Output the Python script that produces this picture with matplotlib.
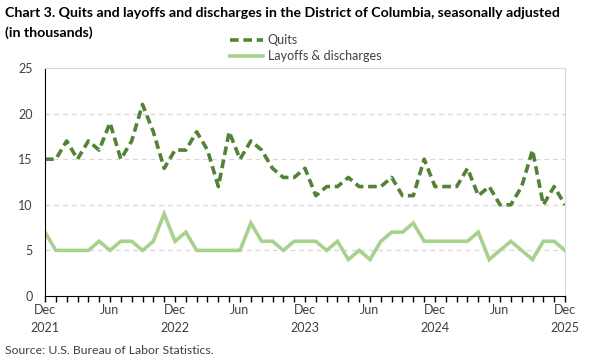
import matplotlib
matplotlib.use("Agg")
import matplotlib.pyplot as plt
import numpy as np

quits = [15, 15, 17, 15, 17, 16, 19, 15, 17, 21, 18, 14,
         16, 16, 18, 16, 12, 18, 15, 17, 16, 14, 13, 13,
         14, 11, 12, 12, 13, 12, 12, 12, 13, 11, 11, 15,
         12, 12, 12, 14, 11, 12, 10, 10, 12, 16, 10, 12, 10]
layoffs = [7, 5, 5, 5, 5, 6, 5, 6, 6, 5, 6, 9,
           6, 7, 5, 5, 5, 5, 5, 8, 6, 6, 5, 6,
           6, 6, 5, 6, 4, 5, 4, 6, 7, 7, 8, 6,
           6, 6, 6, 6, 7, 4, 5, 6, 5, 4, 6, 6, 5]
tick_labels = ["Dec\n2021", "Jun", "Dec\n2022", "Jun", "Dec\n2023", "Jun",
               "Dec\n2024", "Jun", "Dec\n2025"]
y_ticks = [0, 5, 10, 15, 20, 25]

plt.rcParams['font.family'] = ['Lato', 'DejaVu Sans']

fig = plt.figure(figsize=(6, 3.6), dpi=100)
ax = fig.add_axes([45/600, 1-296/360, 520/600, 228/360])

x = np.arange(len(quits))
l1, = ax.plot(x, quits, color='#548235', lw=2.6, linestyle=(0, (2.4, 1.3)), label='Quits')
l2, = ax.plot(x, layoffs, color='#a9d18e', lw=2.6, label='Layoffs & discharges', solid_joinstyle='miter')

ax.set_xlim(0, len(quits)-1)
ax.set_ylim(0, 25)
ax.set_yticks(y_ticks)
ax.set_yticklabels([str(v) for v in y_ticks], fontsize=9, color='#404040')
ax.tick_params(axis='y', length=0, pad=9)
ax.set_xticks(np.arange(0, len(quits), 6))
ax.set_xticklabels(tick_labels, fontsize=9, color='#404040', linespacing=1.6)
ax.set_xticks(np.arange(len(quits)), minor=True)
ax.tick_params(axis='x', which='both', direction='out', length=4, width=1, color='black', pad=2)

for v in [5, 10, 15, 20]:
    ax.axhline(v, color='#d9d9d9', lw=0.9, linestyle=(0, (4, 3)), zorder=0)

ax.spines['left'].set_color('black')
ax.spines['bottom'].set_color('black')
ax.spines['top'].set_color('#d9d9d9')
ax.spines['right'].set_color('#d9d9d9')

fig.text(5/600, 1-13/360, "Chart 3. Quits and layoffs and discharges in the District of Columbia, seasonally adjusted",
         fontsize=10.15, fontweight='bold', va='center', ha='left')
fig.text(5/600, 1-33/360, "(in thousands)", fontsize=10.15, fontweight='bold', va='center', ha='left')

fig.legend(handles=[l1, l2], loc='upper left', bbox_to_anchor=(224/600, 1-28/360),
           frameon=False, fontsize=9, handlelength=2.6, handletextpad=0.4,
           labelspacing=0.3, borderpad=0, labelcolor='#404040')

fig.text(5/600, 1-351/360, "Source: U.S. Bureau of Labor Statistics.", fontsize=8.8, va='center', ha='left',
         color='#404040')

fig.savefig("out.png", dpi=100)
